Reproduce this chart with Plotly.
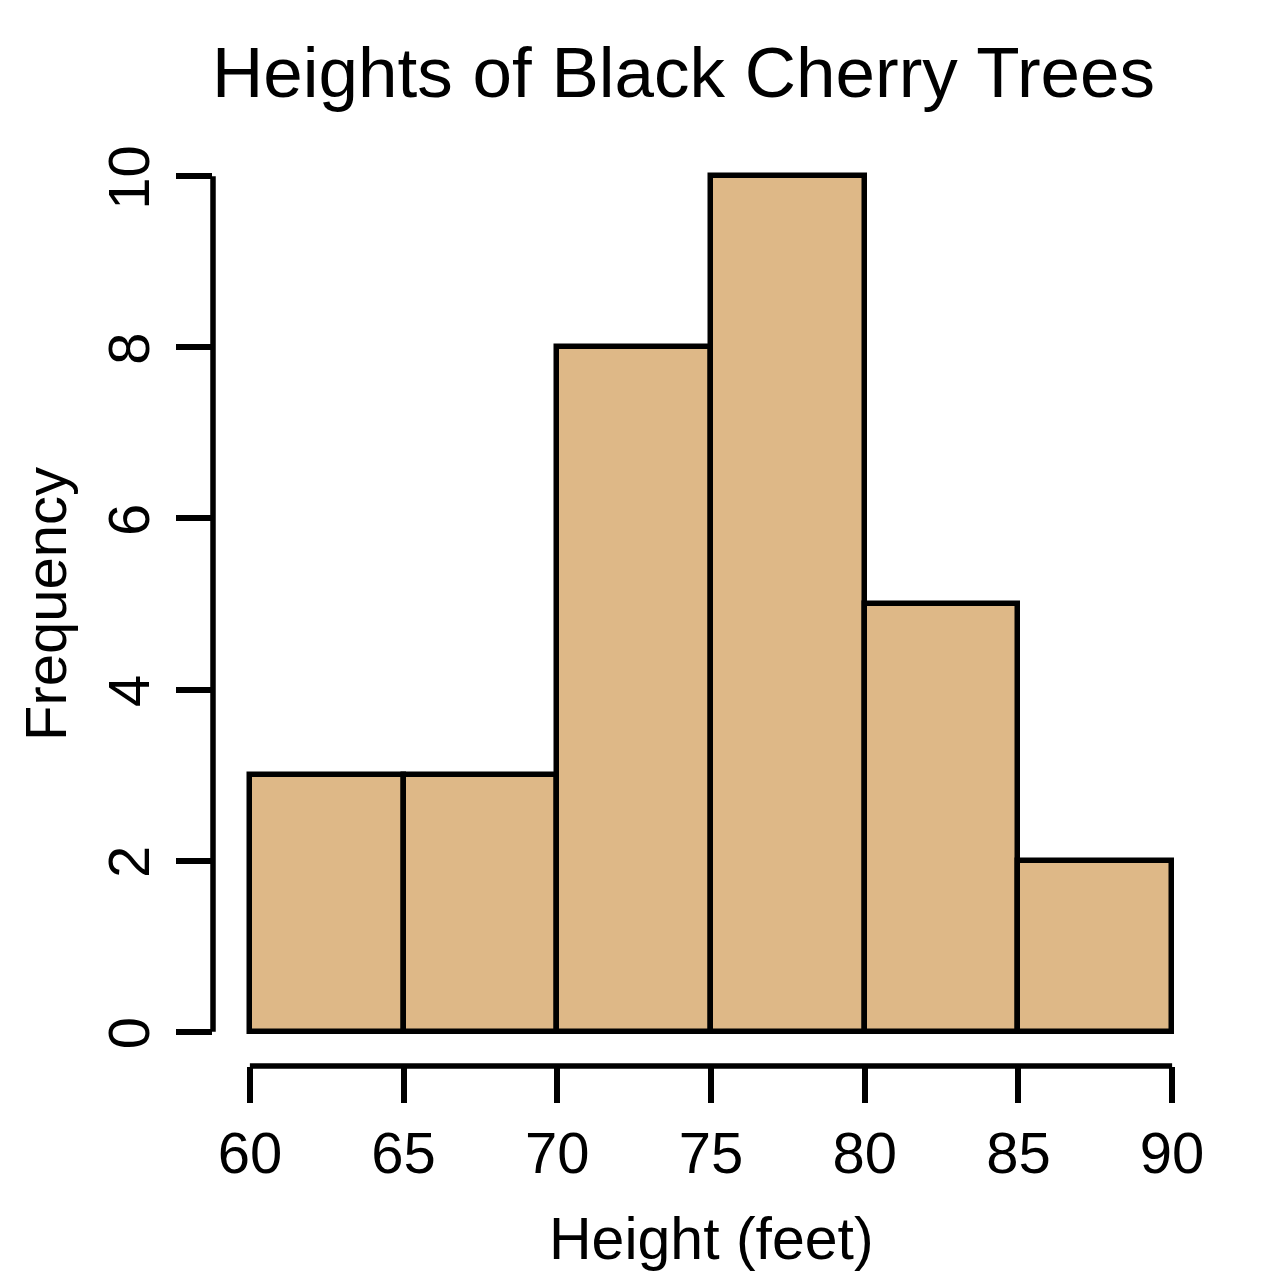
import plotly.graph_objects as go

# Data
bin_starts = [60, 65, 70, 75, 80, 85]
bin_width = 5
frequencies = [3, 3, 8, 10, 5, 2]
x_ticks = [60, 65, 70, 75, 80, 85, 90]
y_ticks = [0, 2, 4, 6, 8, 10]

FONT = "Liberation Sans, Arial, Helvetica, sans-serif"
LW = 5.5

L, R, T, B = 213, 71, 142, 214
W = H = 1280
pw = W - L - R
ph = H - T - B

def px_to_paper_x(px):
    return (px - L) / pw

def px_to_paper_y(py):
    return (H - B - py) / ph

centers = [s + bin_width / 2 for s in bin_starts]

fig = go.Figure()
fig.add_trace(go.Bar(
    x=centers, y=frequencies, width=[bin_width] * len(centers),
    marker=dict(color="#DEB887", line=dict(color="black", width=LW)),
    showlegend=False, hoverinfo="skip",
))

fig.update_layout(
    width=W, height=H,
    margin=dict(l=L, r=R, t=T, b=B, pad=0),
    paper_bgcolor="white", plot_bgcolor="white",
    font=dict(family=FONT, size=58, color="black"),
    xaxis=dict(
        range=[58.8, 91.2], tickvals=x_ticks, ticktext=[str(v) for v in x_ticks],
        ticks="outside", ticklen=36, tickwidth=LW, tickcolor="black",
        showgrid=False, zeroline=False, showline=False,
        tickfont=dict(size=58, family=FONT, color="black"),
    ),
    yaxis=dict(
        range=[-0.4, 10.4], tickvals=y_ticks, ticktext=[str(v) for v in y_ticks],
        ticks="outside", ticklen=36, tickwidth=LW, tickcolor="black",
        showgrid=False, zeroline=False, showline=False, tickangle=-90,
        ticklabelshift=10, ticklabelstandoff=4,
        tickfont=dict(size=58, family=FONT, color="black"),
    ),
    bargap=0,
)

# Detached R-style axis lines
fig.add_shape(type="line", xref="paper", yref="y", x0=0, x1=0,
              y0=y_ticks[0], y1=y_ticks[-1], line=dict(color="black", width=LW))
fig.add_shape(type="line", xref="x", yref="paper", x0=x_ticks[0], x1=x_ticks[-1],
              y0=0, y1=0, line=dict(color="black", width=LW))

fig.add_annotation(text="Heights of Black Cherry Trees", xref="paper", yref="paper",
                   x=px_to_paper_x(683), y=px_to_paper_y(72), showarrow=False,
                   xanchor="center", yanchor="middle",
                   font=dict(size=71, family=FONT, color="black"))
fig.add_annotation(text="Height (feet)", xref="paper", yref="paper",
                   x=px_to_paper_x(711), y=px_to_paper_y(1239), showarrow=False,
                   xanchor="center", yanchor="middle",
                   font=dict(size=59, family=FONT, color="black"))
fig.add_annotation(text="Frequency", xref="paper", yref="paper",
                   x=px_to_paper_x(45), y=px_to_paper_y(604), showarrow=False,
                   textangle=-90, xanchor="center", yanchor="middle",
                   font=dict(size=58, family=FONT, color="black"))

fig.write_html("out.html")
